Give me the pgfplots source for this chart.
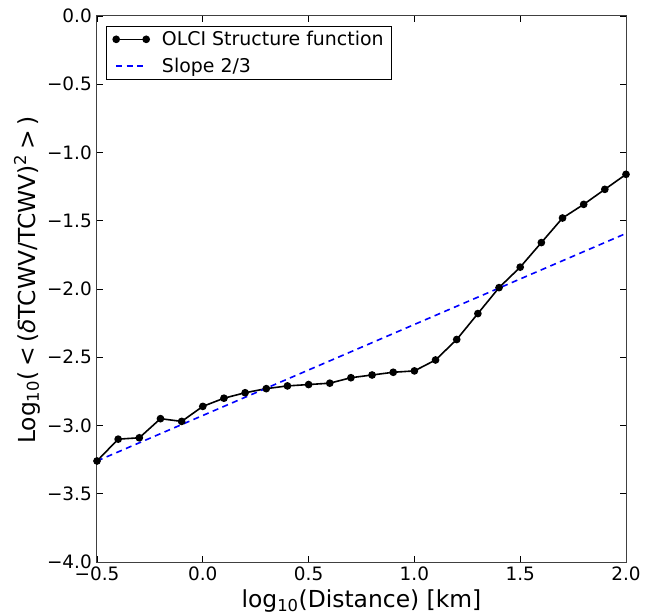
\documentclass[border=0pt]{standalone}
\usepackage{fontspec}
\setmainfont{DejaVu Sans}
\usepackage{pgfplots}
\pgfplotsset{compat=1.18}
\begin{document}
\begin{tikzpicture}
\begin{axis}[
  name=ax,
  scale only axis,
  width=529bp, height=546bp,
  xmin=-0.5, xmax=2.0, ymin=-4.0, ymax=0.0,
  xtick={-0.5,0,0.5,1,1.5,2},
  xticklabels={−0.5,0.0,0.5,1.0,1.5,2.0},
  ytick={-4,-3.5,-3,-2.5,-2,-1.5,-1,-0.5,0},
  yticklabels={−4.0,−3.5,−3.0,−2.5,−2.0,−1.5,−1.0,−0.5,0.0},
  tick align=inside,
  major tick length=6bp,
  tick style={black, line width=0.7bp},
  axis line style={black!75, line width=1bp},
  ticklabel style={font=\fontsize{18.5}{21}\selectfont},
  xticklabel style={inner sep=0bp, yshift=-5bp},
  yticklabel style={inner sep=0bp, xshift=-5bp},
  label style={font=\fontsize{23.5}{26}\selectfont},
  xlabel={log\textsubscript{10}(Distance) [km]},
  ylabel={Log\textsubscript{10}(\hspace{0.2em}<\hspace{0.2em}(\textit{δ}TCWV/TCWV)\textsuperscript{2}\hspace{0.2em}>\hspace{0.2em})},
  xlabel style={at={([yshift=-39bp]axis description cs:0.5,0)}, anchor=center},
  ylabel style={at={([xshift=-70bp,yshift=9bp]axis description cs:0,0.5)}, anchor=center, rotate=0},
  legend style={at={([xshift=9bp,yshift=-10bp]axis description cs:0,1)}, anchor=north west,
    font=\fontsize{19}{22}\selectfont,
    draw=black, line width=0.8bp, inner xsep=6bp, inner ysep=3bp, row sep=7bp, column sep=10bp},
  legend cell align=left,
]
\addplot[black, line width=1.6bp, mark=*, mark size=3bp,
  legend image code/.code={\draw[black, line width=1.6bp] (0bp,0bp) -- (30bp,0bp); \fill[black] (0bp,0bp) circle (3bp); \fill[black] (30bp,0bp) circle (3bp);}]
 coordinates {
 (-0.5,-3.26) (-0.4,-3.10) (-0.3,-3.09) (-0.2,-2.95) (-0.1,-2.97)
 (0.0,-2.86) (0.1,-2.80) (0.2,-2.76) (0.3,-2.73) (0.4,-2.71)
 (0.5,-2.70) (0.6,-2.69) (0.7,-2.65) (0.8,-2.63) (0.9,-2.61)
 (1.0,-2.60) (1.1,-2.52) (1.2,-2.37) (1.3,-2.18) (1.4,-1.99)
 (1.5,-1.84) (1.6,-1.66) (1.7,-1.48) (1.8,-1.38) (1.9,-1.27) (2.0,-1.16)
 };
\addlegendentry{OLCI Structure function}
\addplot[blue, line width=1.6bp, dash pattern=on 6bp off 4.5bp,
  legend image code/.code={\draw[blue, line width=1.6bp, dash pattern=on 6bp off 4.5bp] (0bp,0bp) -- (30bp,0bp);}]
 coordinates {(-0.5,-3.26) (2.0,-1.593)};
\addlegendentry{Slope 2/3}
\end{axis}
\pgfresetboundingbox
\path (ax.south west) ++(-97bp,-54bp) coordinate (bbA);
\path (ax.north east) ++(20bp,16bp) coordinate (bbB);
\path (bbA) rectangle (bbB);
\end{tikzpicture}
\end{document}
